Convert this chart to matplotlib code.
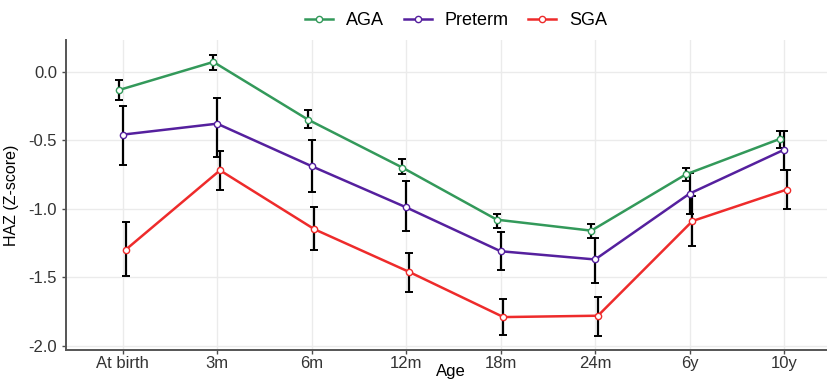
import numpy as np
import matplotlib
matplotlib.use("Agg")
import matplotlib.pyplot as plt

plt.rcParams['font.family'] = ['Liberation Sans', 'DejaVu Sans']

ages = ["At birth", "3m", "6m", "12m", "18m", "24m", "6y", "10y"]

# mean HAZ and lower/upper bounds of the error bars
aga_mean = [-0.135, 0.07, -0.35, -0.70, -1.08, -1.16, -0.75, -0.49]
aga_low = [-0.21, 0.01, -0.41, -0.75, -1.14, -1.21, -0.80, -0.56]
aga_high = [-0.06, 0.12, -0.28, -0.64, -1.04, -1.11, -0.70, -0.43]

pre_mean = [-0.46, -0.38, -0.69, -0.99, -1.31, -1.37, -0.89, -0.57]
pre_low = [-0.68, -0.62, -0.88, -1.16, -1.45, -1.54, -1.04, -0.72]
pre_high = [-0.25, -0.19, -0.50, -0.80, -1.17, -1.21, -0.74, -0.43]

sga_mean = [-1.30, -0.72, -1.15, -1.46, -1.79, -1.78, -1.09, -0.86]
sga_low = [-1.49, -0.86, -1.30, -1.61, -1.92, -1.93, -1.27, -1.00]
sga_high = [-1.10, -0.58, -0.99, -1.32, -1.66, -1.64, -0.91, -0.72]

groups = [
    ("AGA", aga_mean, aga_low, aga_high, "#33995A", -0.04),
    ("Preterm", pre_mean, pre_low, pre_high, "#55209E", 0.0),
    ("SGA", sga_mean, sga_low, sga_high, "#EE2B2B", 0.03),
]

fig = plt.figure(figsize=(8.28, 3.79), dpi=100)
ax = fig.add_axes([0.0797, 0.0765, 0.93, 0.818])

x = np.arange(1, len(ages) + 1)
for name, m, lo, hi, col, dx in groups:
    m = np.array(m)
    err = [m - np.array(lo), np.array(hi) - m]
    ax.errorbar(x + dx, m, yerr=err, fmt='none', ecolor='black',
                elinewidth=1.6, capsize=3, capthick=1.4, zorder=2)
    ax.plot(x + dx, m, color=col, lw=1.8, marker='o', ms=4.5,
            mfc='white', mec=col, mew=1.0, label=name, zorder=3)

ax.set_xlim(0.4, 8.55)
ax.set_ylim(-2.03, 0.23)
ax.set_xticks(x)
ax.set_xticklabels(ages)
ax.set_yticks([0.0, -0.5, -1.0, -1.5, -2.0])
ax.set_yticklabels(["0.0", "-0.5", "-1.0", "-1.5", "-2.0"])
ax.tick_params(axis='both', labelsize=12, colors='#4D4D4D',
               labelcolor='#333333', length=3, width=1)
ax.tick_params(axis='x', pad=1.5)
ax.grid(True, color='#EBEBEB', lw=1)
ax.set_axisbelow(True)
for s in ['top', 'right']:
    ax.spines[s].set_visible(False)
for s in ['left', 'bottom']:
    ax.spines[s].set_color('#555555')
    ax.spines[s].set_linewidth(1.4)

ax.set_ylabel("HAZ (Z-score)", fontsize=11.5, labelpad=7)
ax.set_xlabel("Age", fontsize=12, labelpad=-5)

fig.legend(loc='upper center', bbox_to_anchor=(0.551, 1.01), ncol=3,
           frameon=False, fontsize=13, handlelength=1.55,
           handletextpad=0.7, columnspacing=1.1)

fig.savefig("out.png", dpi=100)
